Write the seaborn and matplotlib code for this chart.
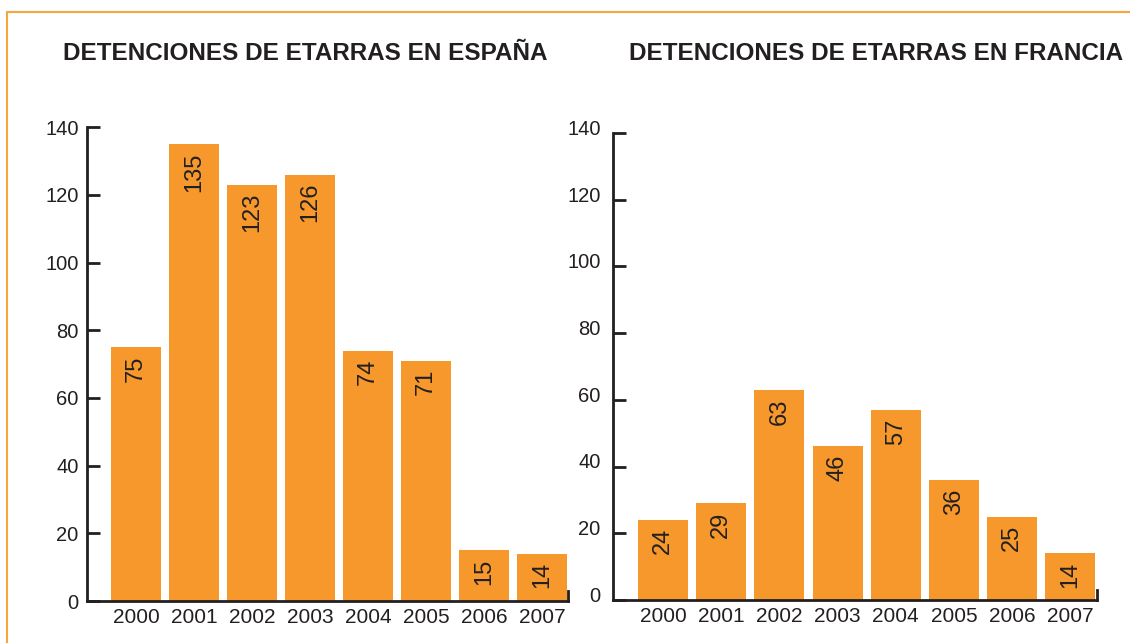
import matplotlib.pyplot as plt
import matplotlib.transforms as mtransforms
from matplotlib.lines import Line2D
import seaborn as sns

# datos
anos = ["2000", "2001", "2002", "2003", "2004", "2005", "2006", "2007"]
espana = [75, 135, 123, 126, 74, 71, 15, 14]
francia = [24, 29, 63, 46, 57, 36, 25, 14]
titulo_esp = "DETENCIONES DE ETARRAS EN ESPAÑA"
titulo_fra = "DETENCIONES DE ETARRAS EN FRANCIA"
yticks = [0, 20, 40, 60, 80, 100, 120, 140]

naranja = "#F6982B"
negro = "#231F20"

sns.set_theme(style="white")
plt.rcParams["font.family"] = ["Liberation Sans", "DejaVu Sans"]

fig = plt.figure(figsize=(11.3, 6.43), dpi=100)
ax1 = fig.add_axes([0.077, 0.0653, 0.426, 0.737])
ax2 = fig.add_axes([0.5425, 0.067, 0.4283, 0.7262])


def panel(ax, valores, xlim, pad_y, subir):
    sns.barplot(x=anos, y=valores, color=naranja, saturation=1, width=0.86,
                linewidth=0, ax=ax)
    ax.set_ylim(0, 140)
    ax.set_xlim(*xlim)
    ax.set_yticks(yticks)
    ax.set_xlabel("")
    ax.set_ylabel("")
    ax.spines["top"].set_visible(False)
    for s in ["left", "bottom", "right"]:
        ax.spines[s].set_color(negro)
        ax.spines[s].set_linewidth(2)
    # pequeño remate a la derecha del eje x
    ax.spines["right"].set_bounds(0, 3)
    ax.tick_params(axis="y", direction="in", length=9, width=2, color=negro,
                   labelsize=14.5, labelcolor=negro, pad=pad_y, left=True)
    ax.tick_params(axis="x", length=0, labelsize=15, labelcolor=negro, pad=5)
    if subir:
        off = mtransforms.ScaledTranslation(0, subir / 72, fig.dpi_scale_trans)
        for lab in ax.get_yticklabels():
            lab.set_transform(lab.get_transform() + off)
    for i, v in enumerate(valores):
        ax.annotate(str(v), (i, v), xytext=(0, -6), textcoords="offset points",
                    rotation=90, ha="center", va="top", fontsize=17, color=negro)


panel(ax1, espana, (-0.845, 7.45), 6, 0)
panel(ax2, francia, (-0.86, 7.46), 9, 4)

fig.text(0.27, 0.917, titulo_esp, ha="center", va="center", fontsize=17.5,
         fontweight="bold", color=negro)
fig.text(0.775, 0.917, titulo_fra, ha="center", va="center", fontsize=17.5,
         fontweight="bold", color=negro)

# marco naranja
marco = "#F7A540"
fig.add_artist(Line2D([0.0062, 1.0], [0.981, 0.981], color=marco, lw=1.5,
                      transform=fig.transFigure))
fig.add_artist(Line2D([0.0062, 0.0062], [0.0, 0.981], color=marco, lw=1.5,
                      transform=fig.transFigure))

plt.savefig("out.png", dpi=100)
